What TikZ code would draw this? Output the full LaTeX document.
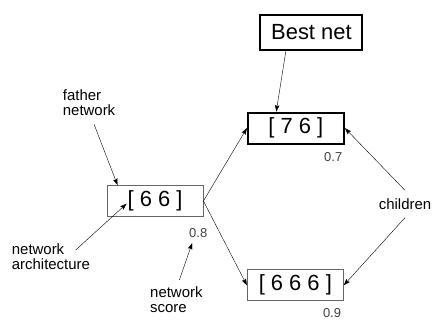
\documentclass[tikz,border=0pt]{standalone}
\usepackage{fontspec}
\setmainfont{Liberation Sans}
\usetikzlibrary{positioning, arrows.meta}
\tikzset{
->, % directed connectors
>={Stealth[length=6.5bp, width=4.5bp, inset=1bp]}, % arrow heads
line width=0.8bp, % thin connectors
netbox/.style={draw=black!60, line width=0.8bp, minimum width=96bp, minimum height=31bp, inner sep=0pt, font=\fontsize{22}{26}\selectfont}, % a network
chosen/.style={netbox, draw=black, line width=2bp}, % the best network
notelbl/.style={inner sep=0pt, align=left, font=\fontsize{15}{16}\selectfont}, % side notes
scorelbl/.style={inner sep=0pt, text=black!75, font=\fontsize{13}{15}\selectfont}, % score under a box
}

\begin{document}
\begin{tikzpicture}[x=1bp, y=-1bp]
  \useasboundingbox (0,0) rectangle (433,320);
  \node[netbox] (n66) at (155,201) {[ 6 6 ]};
  \node[chosen, above right=40.5bp and 43.5bp of n66] (n76) {[ 7 6 ]};
  \node[netbox, below right=52.5bp and 43.5bp of n66] (n666) {[ 6 6 6 ]};
  \node[chosen, minimum width=102bp, minimum height=35bp, above=61bp of n76, xshift=15.5bp] (best) {Best net};
  \node[scorelbl, below left=8bp and 2.5bp of n76.south east] (s76) {0.7};
  \node[scorelbl, below left=11.5bp and -4bp of n66.south east] (s66) {0.8};
  \node[scorelbl, below left=7bp and 2.5bp of n666.south east] (s666) {0.9};
  \node[notelbl, anchor=north west] (father) at (62.7,89) {father\\network};
  \node[notelbl, anchor=north west] (arch) at (11.7,243) {network\\architecture};
  \node[notelbl, anchor=north west] (netscore) at (150,286) {network\\score};
  \node[notelbl, inner ysep=8bp] (children) at (405,204) {children};
  \coordinate (archtail) at ([xshift=64bp,yshift=-7bp]arch.north west);
  \draw (best.216) -- (n76.140);
  \draw (n66.east) -- (n76.west);
  \draw (n66.east) -- (n666.west);
  \draw (children.north) -- (n76.east);
  \draw (children.south) -- (n666.east);
  \draw ([xshift=5bp,yshift=-8bp]father.south) -- (n66.157);
  \draw (archtail) -- ([xshift=-1bp,yshift=3bp]n66.text);
  \draw ([xshift=3bp,yshift=6bp]netscore.north) -- ([xshift=-6bp,yshift=-5bp]s66.south);
\end{tikzpicture}
\end{document}
